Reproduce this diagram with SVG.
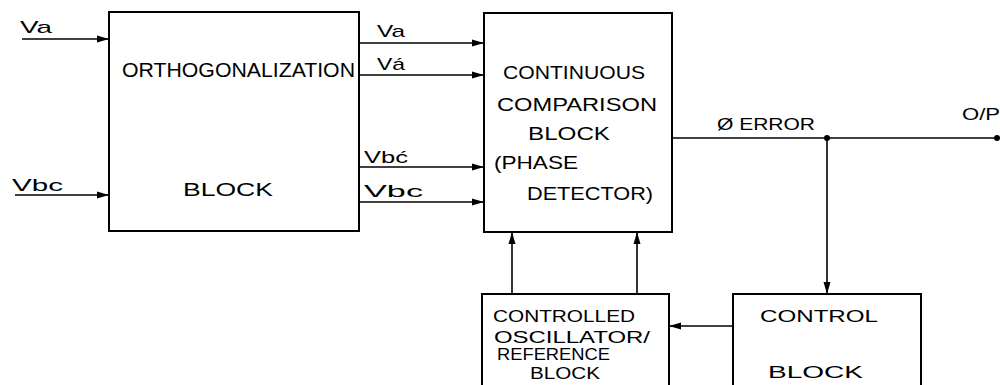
<svg xmlns="http://www.w3.org/2000/svg" width="1000" height="385" viewBox="0 0 1000 385">
<defs>
<style>
.box{fill:#fff;stroke:#000;stroke-width:2}
.ln{fill:none;stroke:#000;stroke-width:1.6}
text{font-family:"Liberation Sans",Arial,sans-serif;fill:#000}
.t{font-size:18px}
.s{font-size:16px}
.l{font-size:17px}
</style>
<marker id="ah" markerWidth="12" markerHeight="8" refX="11" refY="4" orient="auto" markerUnits="userSpaceOnUse">
<path d="M0,0.5 L12,4 L0,7.5 z" fill="#000"/>
</marker>
</defs>
<rect width="1000" height="385" fill="#fff"/>
<g id="connectors">
<line class="ln" x1="22" y1="39" x2="108" y2="39" marker-end="url(#ah)"/>
<line class="ln" x1="15" y1="195" x2="108" y2="195" marker-end="url(#ah)"/>
<line class="ln" x1="360" y1="43" x2="483" y2="43" marker-end="url(#ah)"/>
<line class="ln" x1="360" y1="75" x2="483" y2="75" marker-end="url(#ah)"/>
<line class="ln" x1="360" y1="167" x2="483" y2="167" marker-end="url(#ah)"/>
<line class="ln" x1="360" y1="202" x2="483" y2="202" marker-end="url(#ah)"/>
<line class="ln" x1="672" y1="138" x2="997" y2="138"/>
<circle cx="827" cy="138" r="3" fill="#000"/>
<circle cx="997" cy="138" r="3" fill="#000"/>
<line class="ln" x1="827" y1="138" x2="827" y2="293" marker-end="url(#ah)"/>
<line class="ln" x1="733" y1="326" x2="670" y2="326" marker-end="url(#ah)"/>
<line class="ln" x1="512" y1="294" x2="512" y2="233" marker-end="url(#ah)"/>
<line class="ln" x1="637" y1="294" x2="637" y2="233" marker-end="url(#ah)"/>
<text class="l" x="20" y="33" textLength="32" lengthAdjust="spacingAndGlyphs">Va</text>
<text class="l" x="12" y="191" textLength="51" lengthAdjust="spacingAndGlyphs">Vbc</text>
<text class="l" x="377" y="37" textLength="28" lengthAdjust="spacingAndGlyphs">Va</text>
<text class="l" x="377" y="70" textLength="28" lengthAdjust="spacingAndGlyphs">Vá</text>
<text class="l" x="364" y="163" textLength="44" lengthAdjust="spacingAndGlyphs">Vbć</text>
<text class="l" x="364" y="197" textLength="59" lengthAdjust="spacingAndGlyphs">Vbc</text>
<text class="s" x="717" y="130" textLength="98" lengthAdjust="spacingAndGlyphs">Ø ERROR</text>
<text class="s" x="962" y="120" textLength="38" lengthAdjust="spacingAndGlyphs">O/P</text>
</g>
<g id="orthogonalization">
<rect class="box" x="109" y="12" width="250" height="219"/>
<text x="122" y="77" font-size="21" textLength="233" lengthAdjust="spacingAndGlyphs">ORTHOGONALIZATION</text>
<text class="t" x="183" y="196" textLength="90" lengthAdjust="spacingAndGlyphs">BLOCK</text>
</g>
<g id="comparison">
<rect class="box" x="484" y="13" width="188" height="219"/>
<text class="t" x="503" y="79" textLength="142" lengthAdjust="spacingAndGlyphs">CONTINUOUS</text>
<text class="t" x="497" y="111" textLength="160" lengthAdjust="spacingAndGlyphs">COMPARISON</text>
<text class="t" x="528" y="140" textLength="82" lengthAdjust="spacingAndGlyphs">BLOCK</text>
<text class="t" x="494" y="169" textLength="84" lengthAdjust="spacingAndGlyphs">(PHASE</text>
<text class="t" x="527" y="200" textLength="126" lengthAdjust="spacingAndGlyphs">DETECTOR)</text>
</g>
<g id="oscillator">
<rect class="box" x="482" y="294" width="187" height="100"/>
<text class="s" x="493" y="322" textLength="142" lengthAdjust="spacingAndGlyphs">CONTROLLED</text>
<text class="s" x="494" y="343" textLength="156" lengthAdjust="spacingAndGlyphs">OSCILLATOR/</text>
<text class="s" x="497" y="360" textLength="113" lengthAdjust="spacingAndGlyphs">REFERENCE</text>
<text class="s" x="530" y="379" textLength="70" lengthAdjust="spacingAndGlyphs">BLOCK</text>
</g>
<g id="control">
<rect class="box" x="733" y="294" width="188" height="100"/>
<text class="s" x="760" y="322" textLength="118" lengthAdjust="spacingAndGlyphs">CONTROL</text>
<text class="s" x="768" y="378" textLength="95" lengthAdjust="spacingAndGlyphs">BLOCK</text>
</g>
</svg>
